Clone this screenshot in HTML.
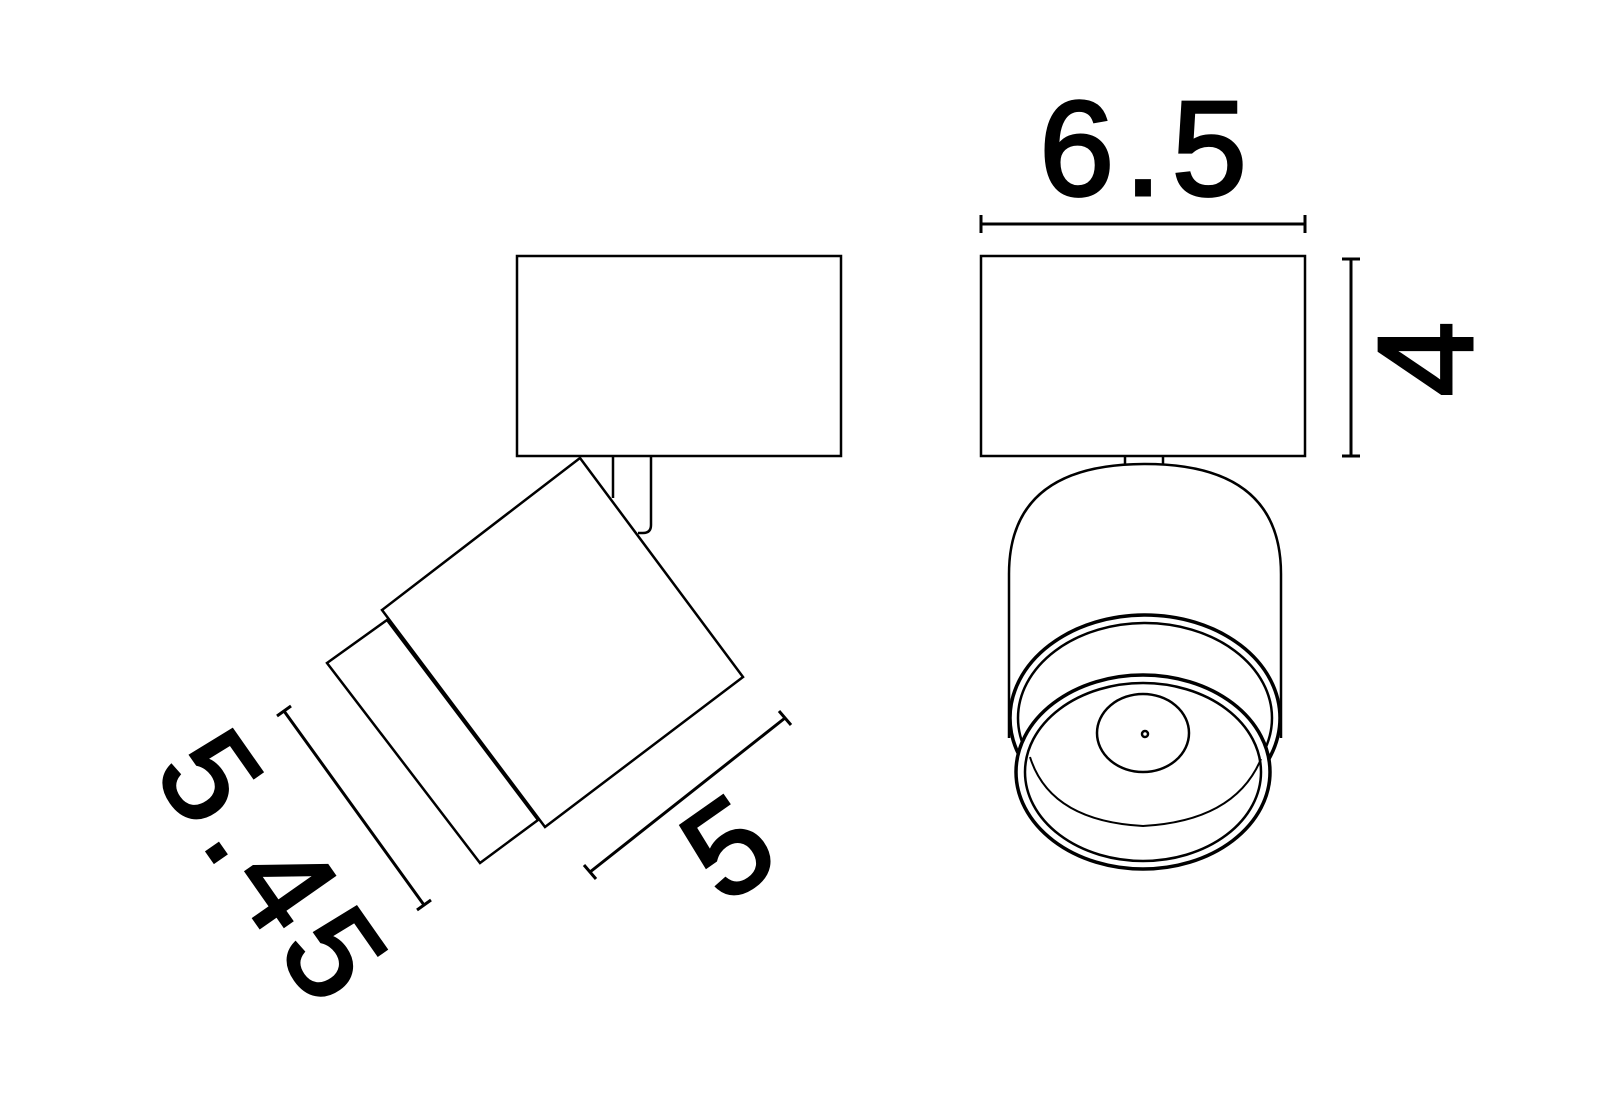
<!DOCTYPE html>
<html><head><style>html,body{margin:0;padding:0;background:#fff}svg{display:block}</style></head>
<body>
<svg width="1600" height="1117" viewBox="0 0 1600 1117" xmlns="http://www.w3.org/2000/svg">
<g fill="none" stroke="#000" stroke-width="2.5">
<!-- left view -->
<rect x="517" y="256" width="324" height="200"/>
<path d="M613 456 V498 M651 456 V525 Q651 533 643 533 H638"/>
<polygon points="327,663 387,620 538,820 480,863" fill="#fff"/>
<polygon points="580,458 743,677 545,827 382,610" fill="#fff"/>
<g transform="translate(-6,0)">
<!-- right view -->
<rect x="987" y="256" width="324" height="200"/>
<path d="M1131 456 V464 M1169 456 V464"/>
<path d="M1015 738 V574 Q1015 464 1151 464 Q1287 464 1287 574 V738"/>
<ellipse cx="1151" cy="718" rx="135" ry="103" stroke-width="3.5"/>
<ellipse cx="1151" cy="718" rx="127" ry="95"/>
<ellipse cx="1149" cy="772" rx="127" ry="97" fill="#fff" stroke-width="3.5"/>
<ellipse cx="1149" cy="772" rx="118" ry="89"/>
<path d="M1036 757 Q1056 821 1149 826 Q1241 821 1267 759" stroke-width="2"/>
<ellipse cx="1149" cy="733" rx="46" ry="39"/>
<ellipse cx="1151" cy="734" rx="3" ry="3"/>
<!-- dims -->
<path d="M987 224 H1311 M987 215 V233 M1311 215 V233" stroke-width="3"/>
<path d="M1357 259 V456 M1348 259 H1366 M1348 456 H1366" stroke-width="3"/>
</g>
<path d="M284 711 L424 905 M277 716 L291 706 M417 910 L431 900" stroke-width="3"/>
<path d="M590 872 L785 718 M584 865 L596 879 M779 711 L791 725" stroke-width="3"/>
</g>
<g font-family="Liberation Sans, sans-serif" fill="#000" stroke="#000" stroke-width="3" text-anchor="middle">
<text x="1148" y="195" font-size="135" letter-spacing="10">6.5</text>
<text transform="translate(1472,359) rotate(-90)" font-size="135">4</text>
<text transform="translate(238,896) rotate(55)" font-size="132" letter-spacing="11">5.45</text>
<text transform="translate(754,885) rotate(-35)" font-size="132">5</text>
</g>
</svg>
</body></html>
